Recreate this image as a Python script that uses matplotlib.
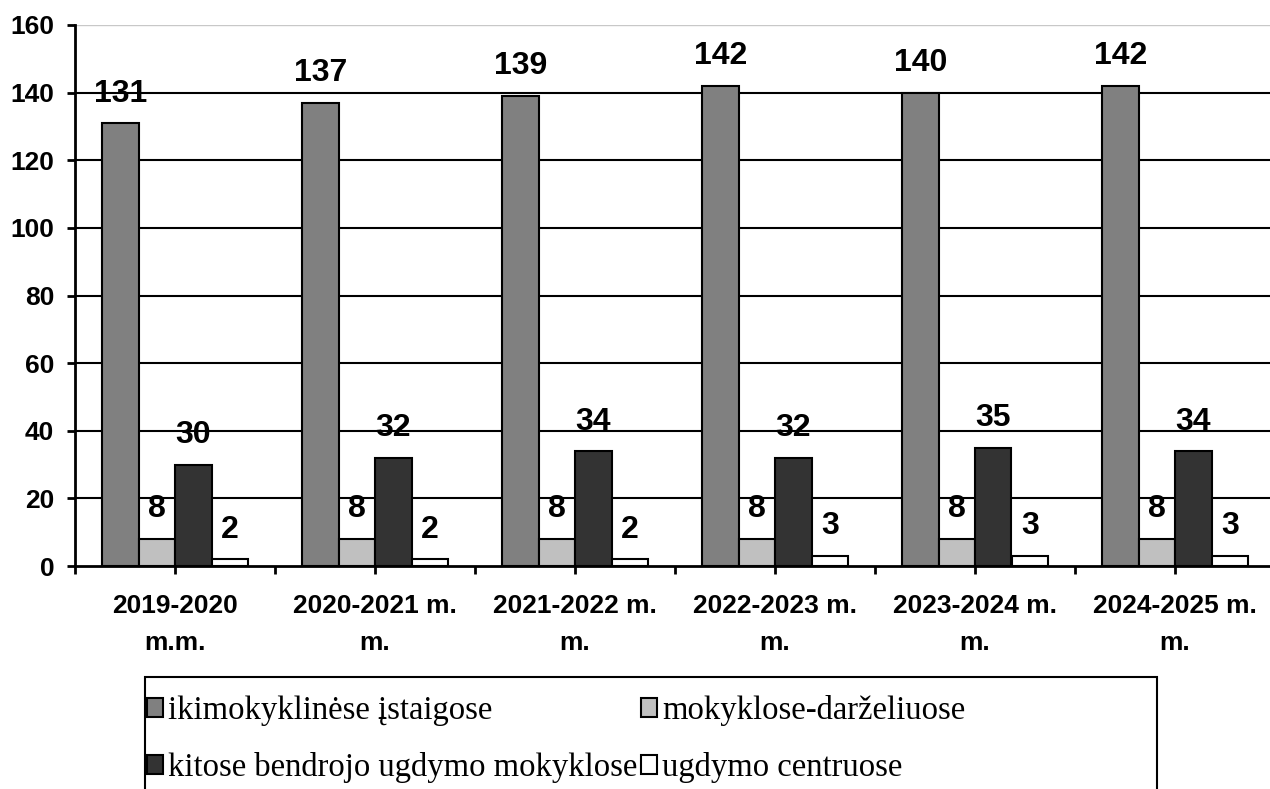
import matplotlib.pyplot as plt
import numpy as np
from matplotlib.patches import Rectangle

plt.rcParams['font.family'] = ['Liberation Sans', 'DejaVu Sans']

years = ["2019-2020\nm.m.", "2020-2021 m.\nm.", "2021-2022 m.\nm.",
         "2022-2023 m.\nm.", "2023-2024 m.\nm.", "2024-2025 m.\nm."]
ikimokyklines = [131, 137, 139, 142, 140, 142]
mokyklos_darzeliai = [8, 8, 8, 8, 8, 8]
kitos_mokyklos = [30, 32, 34, 32, 35, 34]
ugdymo_centrai = [2, 2, 2, 3, 3, 3]

series = [
    ("ikimokyklinėse įstaigose", ikimokyklines, "#808080"),
    ("mokyklose-darželiuose", mokyklos_darzeliai, "#c0c0c0"),
    ("kitose bendrojo ugdymo mokyklose", kitos_mokyklos, "#333333"),
    ("ugdymo centruose", ugdymo_centrai, "#ffffff"),
]

W, H = 1270, 789
fig = plt.figure(figsize=(W / 100, H / 100), dpi=100)
# plot area in pixels: x 75..1275, y 25..566
ax = fig.add_axes([75 / W, (H - 566) / H, 1200 / W, (566 - 25) / H])

x = np.arange(len(years))
w = 0.1825
offsets = [-1.5, -0.5, 0.5, 1.5]

# grid lines behind bars
for v in range(20, 160, 20):
    ax.axhline(v, color='black', lw=1.5, zorder=0)
ax.axhline(160, color='#c8c8c8', lw=1.0, zorder=0)

handles = []
for (name, vals, col), off in zip(series, offsets):
    bars = ax.bar(x + off * w, vals, w, color=col, edgecolor='black', lw=1.5,
                  label=name, zorder=2)
    handles.append(bars)
    for xi, v in zip(x, vals):
        ax.annotate(str(v), (xi + off * w, v), xytext=(0, 15.5),
                    textcoords='offset points', ha='center', va='baseline',
                    fontsize=23, fontweight='bold', zorder=3)

ax.set_xlim(-0.5, 5.5)
ax.set_ylim(0, 160)
ax.set_yticks(range(0, 161, 20))
ax.set_xticks(x)
ax.set_xticks(np.arange(-0.5, 6, 1), minor=True)
ax.set_xticklabels(years, fontsize=19, fontweight='bold', linespacing=1.7)
for lab in ax.get_yticklabels():
    lab.set_fontsize(19)
    lab.set_fontweight('bold')

ax.tick_params(axis='y', length=6, width=2, pad=9)
ax.tick_params(axis='x', which='both', length=6, width=2, pad=14)
for s in ['top', 'right']:
    ax.spines[s].set_visible(False)
for s in ['left', 'bottom']:
    ax.spines[s].set_linewidth(2)

# legend frame (cut by the bottom edge)
fig.patches.append(Rectangle((145 / W, -0.05), (1157 - 145) / W, 0.05 + (H - 677) / H,
                             transform=fig.transFigure, fill=False,
                             edgecolor='black', lw=1.5))
# column-wise fill: col 1 = series 0, 2; col 2 = series 1, 3
order = [0, 2, 1, 3]
fig.legend(handles=[handles[i] for i in order], loc='upper left', ncol=2,
           frameon=False, bbox_to_anchor=(147 / W, (H - 695) / H),
           prop={'family': 'Liberation Serif', 'size': 23.5},
           handlelength=0.5, handleheight=0.5, handletextpad=0.15,
           columnspacing=0.1, labelspacing=0.8, borderpad=0, borderaxespad=0)

fig.savefig('out.png', dpi=100)
